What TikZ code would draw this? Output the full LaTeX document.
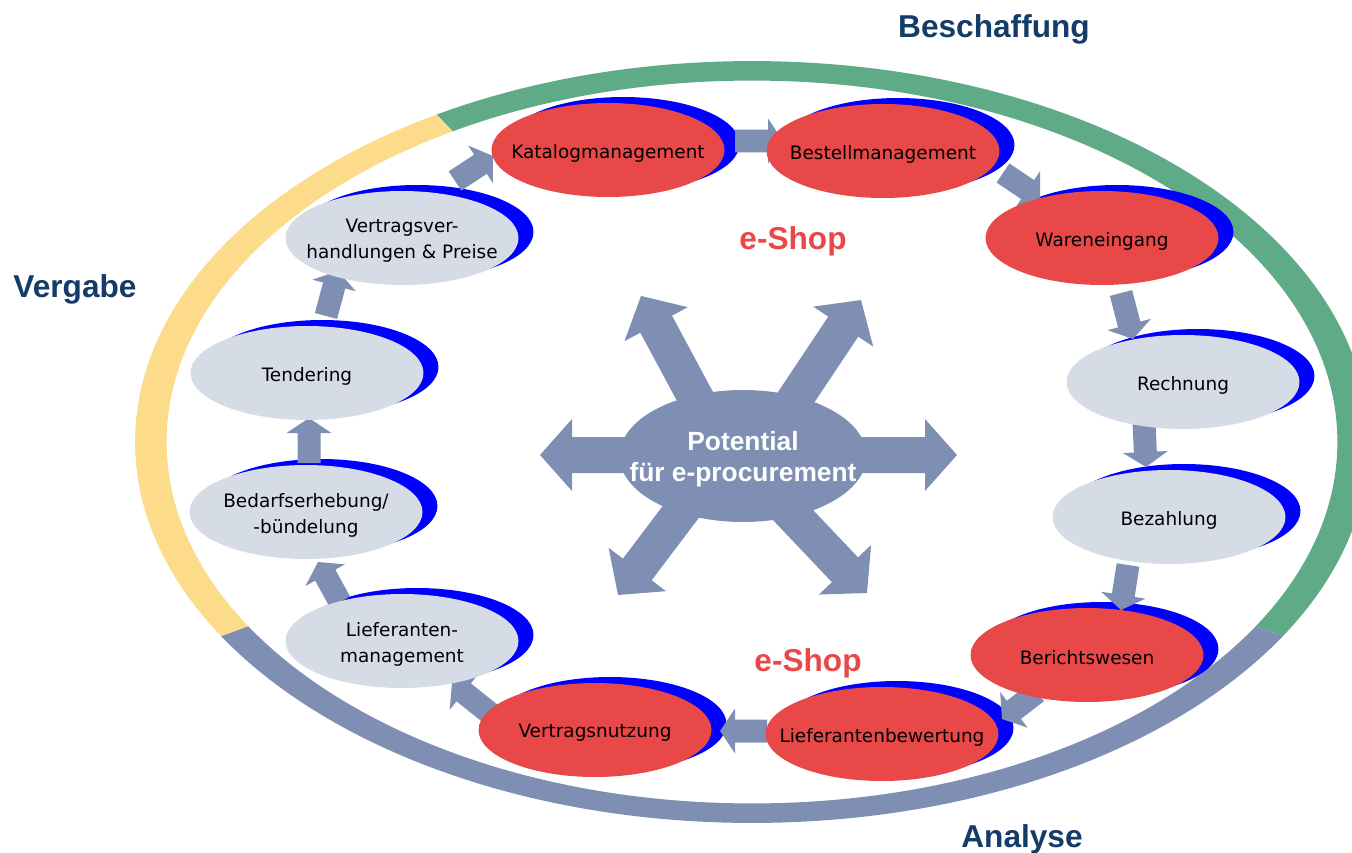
\documentclass[tikz,border=0pt]{standalone}
\usepackage{fontspec}
\setmainfont{DejaVu Sans}
\newfontfamily\arialfont{Liberation Sans}
\usetikzlibrary{calc,shapes.geometric}

\definecolor{procred}{HTML}{E84848}
\definecolor{procgrey}{HTML}{D6DCE6}
\definecolor{shadowblue}{HTML}{0000FF}
\definecolor{slate}{HTML}{7F8FB3}
\definecolor{ringyellow}{HTML}{FCDC8A}
\definecolor{ringgreen}{HTML}{5FAA87}
\definecolor{headnavy}{HTML}{133C68}
\definecolor{shopred}{HTML}{E84848}

\tikzset{
  procshape/.style={ellipse, minimum width=4.66cm, minimum height=1.88cm, inner sep=0pt, draw=none},
  procblue/.style={procshape, fill=shadowblue},
  procr/.style={procshape, fill=procred},
  procg/.style={procshape, fill=procgrey},
  proctext/.style={font=\fontsize{10.5}{14.7}\selectfont, align=center, text=black, inner sep=0pt, yshift=-0.06cm},
  heading/.style={font=\arialfont\bfseries\fontsize{18}{21}\selectfont, text=headnavy, inner sep=0pt, yshift=-0.07cm},
  shoplabel/.style={font=\arialfont\bfseries\fontsize{18}{21}\selectfont, text=shopred, inner sep=0pt, yshift=-0.06cm},
  centertext/.style={font=\arialfont\bfseries\fontsize{15}{17.6}\selectfont, text=white, align=center, inner sep=0pt, yshift=-0.07cm},
  flowfill/.style={fill=slate},
}

% #1 start, #2 tip, #3 shaft half width, #4 head half width, #5 head length
\newcommand{\blockarrow}[5]{%
  \path ($(#2)!#5!(#1)$) coordinate (hb);
  \fill[flowfill] ($(#1)!#3!90:(#2)$) -- ($(hb)!#3!90:(#2)$) -- ($(hb)!#4!90:(#2)$) -- (#2)
    -- ($(hb)!#4!-90:(#2)$) -- ($(hb)!#3!-90:(#2)$) -- ($(#1)!#3!-90:(#2)$) -- cycle;
}

\begin{document}
\begin{tikzpicture}[x=0.02cm, y=-0.02cm]
\useasboundingbox (0,0) rectangle (1352,852);

% ---- outer ring ----
\coordinate (ringc) at (752,442);
\begin{scope}
  \clip (ringc) -- ++(133.9:30cm) arc[start angle=133.9, end angle=200.1, radius=30cm] -- cycle;
  \fill[even odd rule, ringyellow] (ringc) ellipse[x radius=12.34cm, y radius=7.62cm]
       (ringc) ellipse[x radius=11.71cm, y radius=7.23cm];
\end{scope}
\begin{scope}
  \clip (ringc) -- ++(-20.1:30cm) arc[start angle=-20.1, end angle=133.9, radius=30cm] -- cycle;
  \fill[even odd rule, ringgreen] (ringc) ellipse[x radius=12.34cm, y radius=7.62cm]
       (ringc) ellipse[x radius=11.71cm, y radius=7.23cm];
\end{scope}
\begin{scope}
  \clip (ringc) -- ++(200.1:30cm) arc[start angle=200.1, end angle=339.9, radius=30cm] -- cycle;
  \fill[even odd rule, slate] (ringc) ellipse[x radius=12.34cm, y radius=7.62cm]
       (ringc) ellipse[x radius=11.71cm, y radius=7.23cm];
\end{scope}

% ---- central star ----
\coordinate (sLs) at (700,455);  \coordinate (sLe) at (540,455);
\coordinate (sRs) at (780,455);  \coordinate (sRe) at (957,455);
\coordinate (sULs) at (727,456); \coordinate (sULe) at (641,296);
\coordinate (sURs) at (757,456); \coordinate (sURe) at (861,300);
\coordinate (sLLs) at (723,456); \coordinate (sLLe) at (618,595);
\coordinate (sLRs) at (737,456); \coordinate (sLRe) at (867,593);
\blockarrow{sLs}{sLe}{0.36cm}{0.72cm}{0.64cm}
\blockarrow{sRs}{sRe}{0.36cm}{0.72cm}{0.64cm}
\blockarrow{sULs}{sULe}{0.36cm}{0.72cm}{0.64cm}
\blockarrow{sURs}{sURe}{0.36cm}{0.72cm}{0.64cm}
\blockarrow{sLLs}{sLLe}{0.36cm}{0.72cm}{0.64cm}
\blockarrow{sLRs}{sLRe}{0.36cm}{0.72cm}{0.64cm}
\node[ellipse, fill=slate, minimum width=4.94cm, minimum height=2.64cm, inner sep=0pt] (pot) at (743,456) {};
\node[centertext] (pott) at (pot) {Potential\\für e-procurement};

% ---- blue crescents ----
\node[procblue] (kat-s) at (608+15,150-6) {};
\node[procblue] (bes-s) at (883+15,151-6) {};
\node[procblue] (war-s) at (1102+15,238-6) {};
\node[procblue] (rec-s) at (1183+15,382-6) {};
\node[procblue] (bez-s) at (1169+15,517-6) {};
\node[procblue] (ber-s) at (1087+15,655-6) {};
\node[procblue] (lbw-s) at (882+15,734-6) {};
\node[procblue] (vnu-s) at (595+15,730-6) {};
\node[procblue] (lma-s) at (402+15,641-6) {};
\node[procblue] (bed-s) at (306+15,512-6) {};
\node[procblue] (ten-s) at (307+15,373-6) {};
\node[procblue] (vvh-s) at (402+15,238-6) {};

% ---- flow arrows ----
\coordinate (a1s) at (455,181);  \coordinate (a1e) at (493,156);
\coordinate (a2s) at (735,141);  \coordinate (a2e) at (783,141);
\coordinate (a3s) at (1003,173); \coordinate (a3e) at (1040,198);
\coordinate (a4s) at (1121,293); \coordinate (a4e) at (1133,339);
\coordinate (a5s) at (1144,422); \coordinate (a5e) at (1146,467);
\coordinate (a6s) at (1128,565); \coordinate (a6e) at (1121,610);
\coordinate (a7s) at (1037,692); \coordinate (a7e) at (1002,719);
\coordinate (a8s) at (767,731);  \coordinate (a8e) at (720,731);
\coordinate (a9s) at (492,715);  \coordinate (a9e) at (452,683);
\coordinate (a10s) at (340,602); \coordinate (a10e) at (318,562);
\coordinate (a11s) at (309,463); \coordinate (a11e) at (309,418);
\coordinate (a12s) at (326,316); \coordinate (a12e) at (338,271);
\foreach \i in {1,...,12}{\blockarrow{a\i s}{a\i e}{0.23cm}{0.45cm}{0.3cm}}

% ---- process ellipses ----
\node[procr] (kat) at (608,150) {};
\node[procr] (bes) at (883,151) {};
\node[procr] (war) at (1102,238) {};
\node[procg] (rec) at (1183,382) {};
\node[procg] (bez) at (1169,517) {};
\node[procr] (ber) at (1087,655) {};
\node[procr] (lbw) at (882,734) {};
\node[procr] (vnu) at (595,730) {};
\node[procg] (lma) at (402,641) {};
\node[procg] (bed) at (306,512) {};
\node[procg] (ten) at (307,373) {};
\node[procg] (vvh) at (402,238) {};

\node[proctext] (kat-t) at (kat) {Katalogmanagement};
\node[proctext] (bes-t) at (bes) {Bestellmanagement};
\node[proctext] (war-t) at (war) {Wareneingang};
\node[proctext] (rec-t) at (rec) {Rechnung};
\node[proctext] (bez-t) at (bez) {Bezahlung};
\node[proctext] (ber-t) at (ber) {Berichtswesen};
\node[proctext] (lbw-t) at (lbw) {Lieferantenbewertung};
\node[proctext] (vnu-t) at (vnu) {Vertragsnutzung};
\node[proctext] (lma-t) at (lma) {Lieferanten-\\management};
\node[proctext] (bed-t) at (bed) {Bedarfserhebung/\\-bündelung};
\node[proctext] (ten-t) at (ten) {Tendering};
\node[proctext] (vvh-t) at (vvh) {Vertragsver-\\handlungen \& Preise};

% ---- headings ----
\node[heading] (hbes) at (994,26) {Beschaffung};
\node[heading] (hver) at (75,286) {Vergabe};
\node[heading] (hana) at (1022,836) {Analyse};
\node[shoplabel] (shop1) at (793,238) {e-Shop};
\node[shoplabel] (shop2) at (808,660) {e-Shop};
\end{tikzpicture}
\end{document}
